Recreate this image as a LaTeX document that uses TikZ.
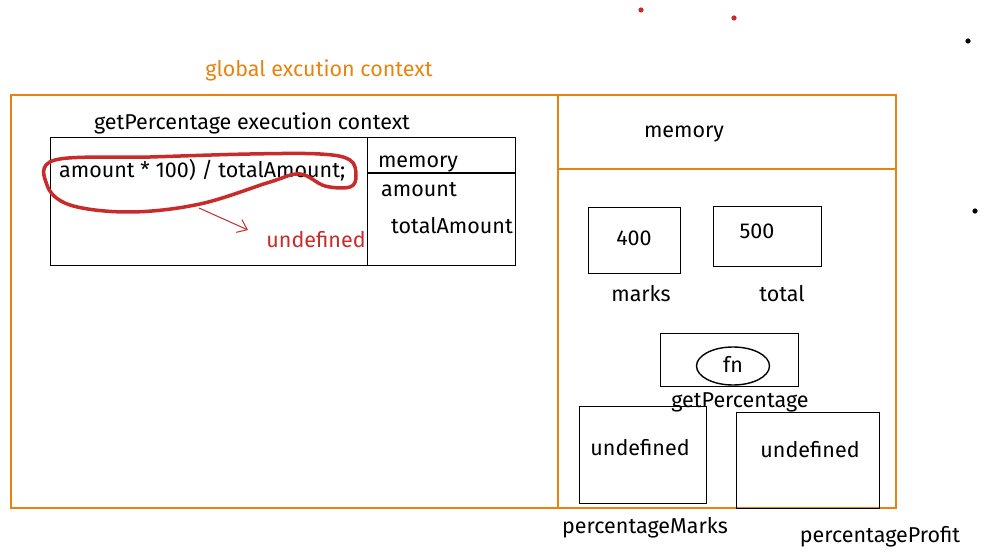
\documentclass[tikz,border=0pt]{standalone}
\usepackage{fontspec}
\setmainfont{Fira Sans}
\usetikzlibrary{arrows.meta,shapes.geometric}
\definecolor{ora}{HTML}{E8830F}
\definecolor{rd}{HTML}{C92A2A}
\begin{document}
\begin{tikzpicture}[x=1pt,y=-1pt,
  lbl/.style={font=\fontsize{21.5}{24}\selectfont, inner sep=0pt, text=black},
  bx/.style={draw=black, line width=1.4pt, inner sep=0pt},
  obx/.style={draw=ora, line width=1.7pt, inner sep=0pt}]
\useasboundingbox (0,0) rectangle (985,556);
% dots
\fill[rd] (641,10) circle (2.6);
\fill[rd] (734,18) circle (2.6);
\fill[black] (968,41) circle (2.6);
\fill[black] (975,211) circle (2.6);
% global context
\node[lbl, text=ora] (gtitle) at (319,70) {global excution context};
\node[obx, minimum width=885, minimum height=413, anchor=north west] (global) at (10,94) {};
\node[obx, minimum width=338, minimum height=413, anchor=north west] (heap) at (557,94) {};
\node[obx, minimum width=338, minimum height=74, anchor=north west] (memhead) at (557,94) {};
\node[lbl] (memtxt) at (684,134) {memory};
% getPercentage execution context
\node[lbl] (gptitle) at (252,123) {getPercentage execution context};
\node[bx, minimum width=465, minimum height=128, anchor=north west] (gpbox) at (50,137) {};
\node[bx, minimum width=148, minimum height=128, anchor=north west] (gpmem) at (367,137) {};
\coordinate (divL) at (367,173);
\coordinate (divR) at (515,173);
\draw[line width=1.4pt] (divL) -- (divR);
\node[lbl] (gpmemtxt) at (418,164) {memory};
\node[lbl] (amt) at (419,190) {amount};
\node[lbl] (tamt) at (452,226) {totalAmount};
\node[lbl, anchor=west] (expr) at (59,170) {amount * 100) / totalAmount;};
% red loop
\draw[rd, line width=3.5pt, line cap=round] plot[smooth cycle, tension=0.6] coordinates {
  (55,160) (150,157) (250,154) (320,154) (350,160) (356,176) (350,187) (325,186)
  (300,174) (270,182) (200,204) (130,212) (70,205) (47,185)};
\coordinate (arS) at (199,208);
\node[lbl, text=rd] (undef) at (316,240) {undefined};
\coordinate (arE) at (248,230);
\draw[rd, line width=1pt, -{Straight Barb[length=9pt,width=14pt]}] (arS) -- (arE);
% right side memory
\node[bx, minimum width=92, minimum height=66, anchor=north west] (b400) at (588,207) {};
\node[lbl] (t400) at (634,238) {400};
\node[bx, minimum width=108, minimum height=60, anchor=north west] (b500) at (713,206) {};
\node[lbl] (t500) at (757,231) {500};
\node[lbl] (marks) at (641,294) {marks};
\node[lbl] (total) at (782,294) {total};
\node[bx, minimum width=138, minimum height=53, anchor=north west] (bfn) at (660,333) {};
\node[draw=black, line width=1.4pt, ellipse, minimum width=73, minimum height=38, inner sep=0pt] (fn) at (733,366) {};
\node[lbl] (fntxt) at (733,364) {fn};
\node[lbl] (gpname) at (740,402) {getPercentage};
\node[bx, minimum width=127, minimum height=97, anchor=north west] (bpm) at (579,406) {};
\node[lbl] (u1) at (640,448) {undefined};
\node[bx, minimum width=143, minimum height=96, anchor=north west] (bpp) at (736,412) {};
\node[lbl] (u2) at (810,450) {undefined};
\node[lbl] (pm) at (645,528) {percentageMarks};
\node[lbl] (pp) at (880,537) {percentageProfit};
\end{tikzpicture}
\end{document}
